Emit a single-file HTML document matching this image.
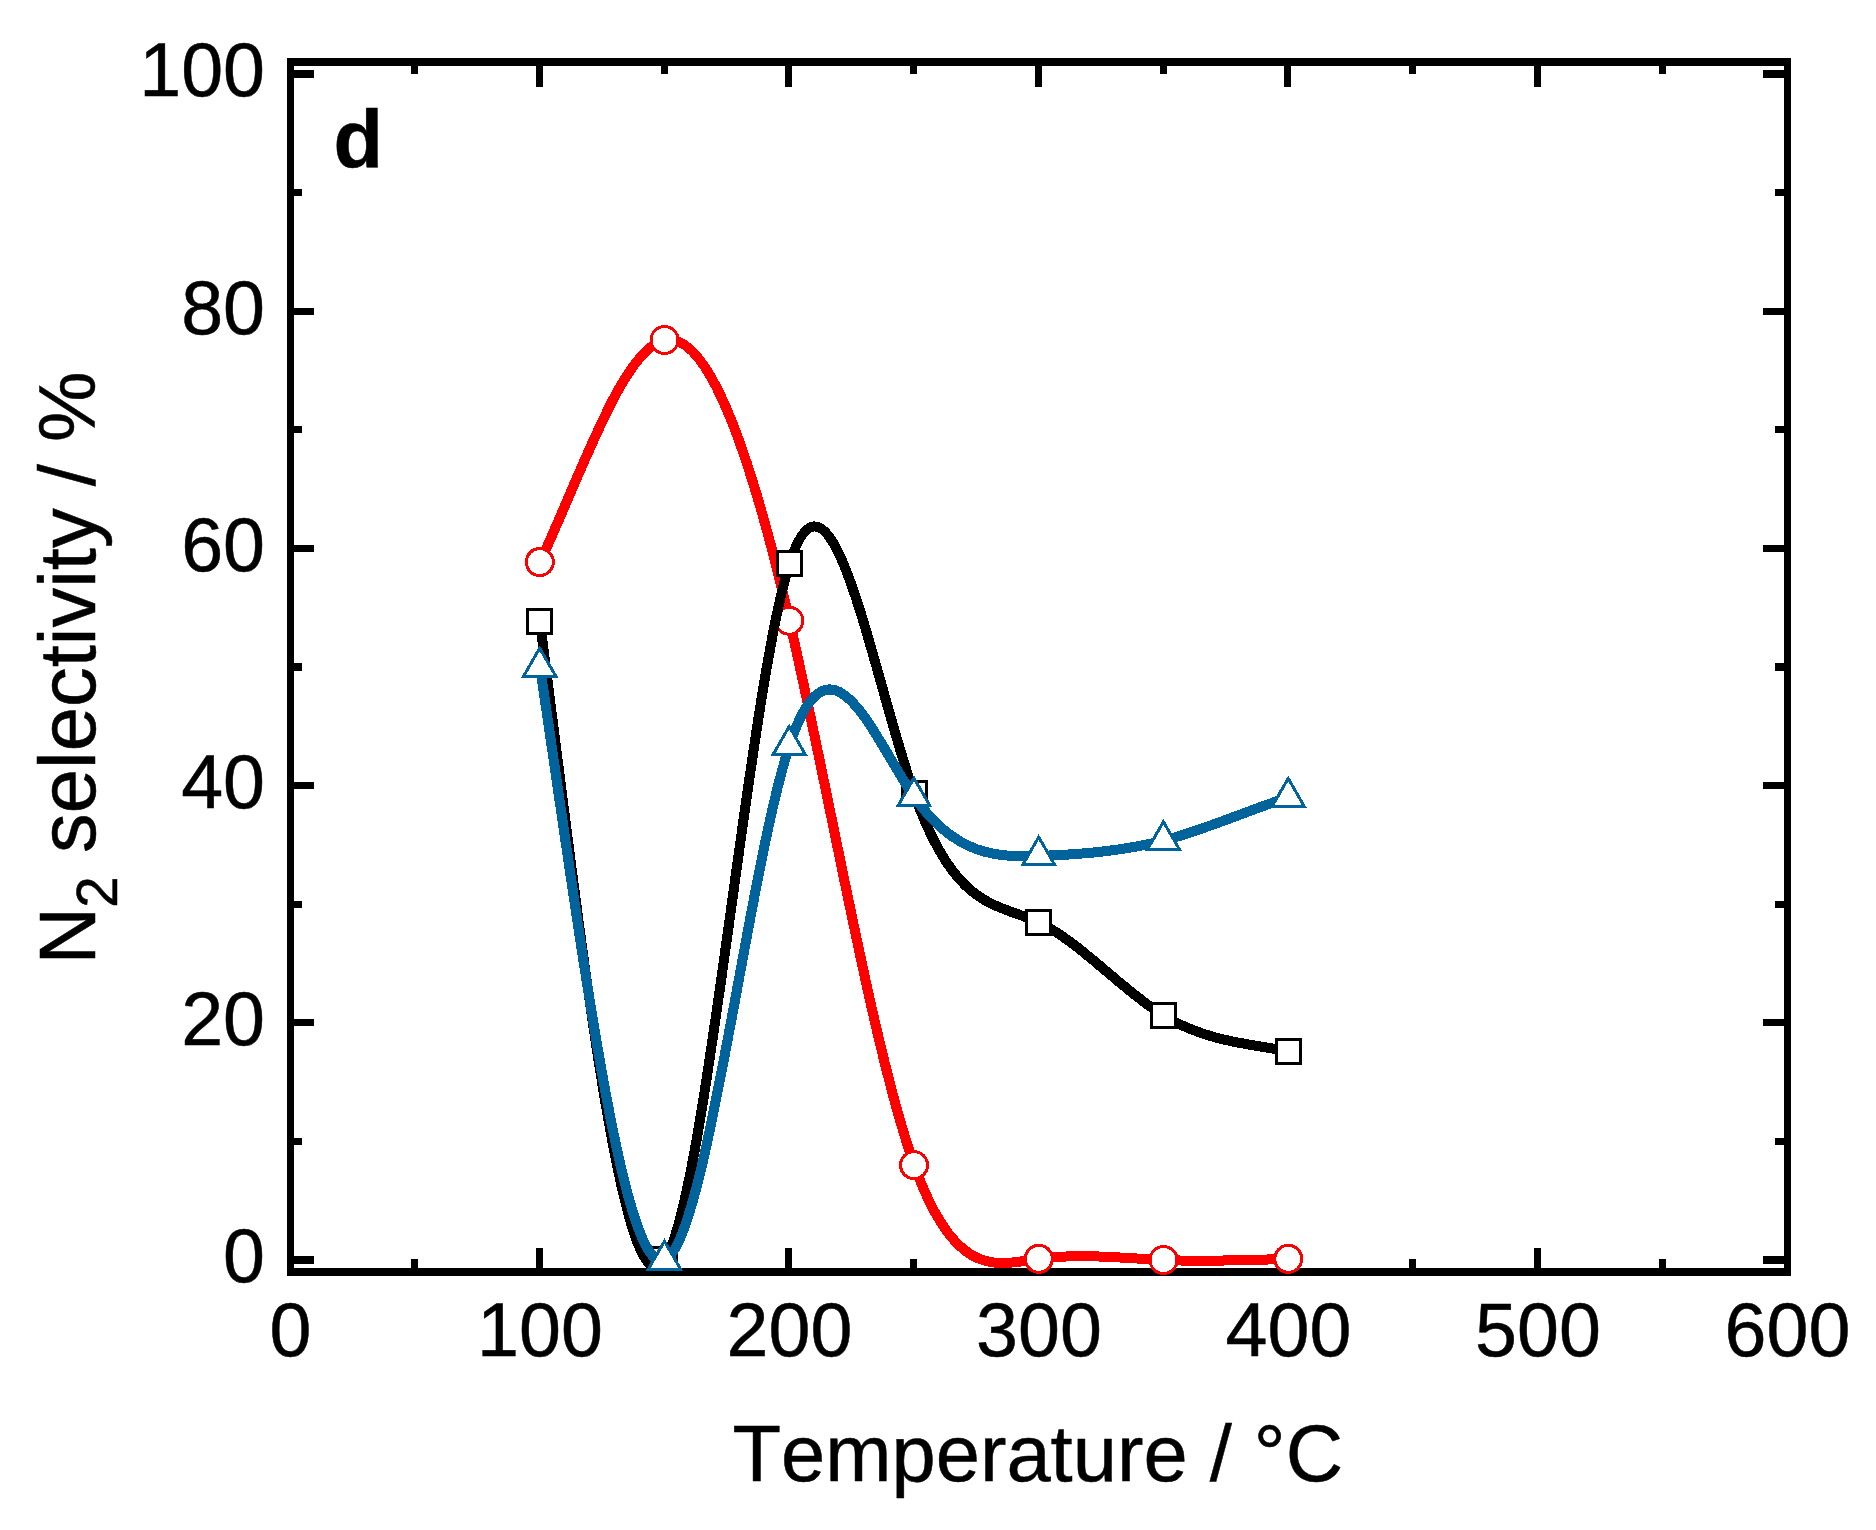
<!DOCTYPE html>
<html lang="en">
<head>
<meta charset="utf-8">
<title>N2 selectivity vs Temperature</title>
<style>
html,body{margin:0;padding:0;background:#ffffff;}
body{width:1876px;height:1530px;overflow:hidden;}
svg{display:block;}
text{font-family:"Liberation Sans",Arial,Helvetica,sans-serif;fill:#000;font-kerning:none;stroke:#000;stroke-width:0.5px;}
.tick{font-size:75.4px;}
.title{font-size:79.5px;}
</style>
</head>
<body>
<svg width="1876" height="1530" viewBox="0 0 1876 1530">
<rect x="0" y="0" width="1876" height="1530" fill="#ffffff"/>

<g fill="#000" shape-rendering="crispEdges">
<rect x="287" y="58" width="1504" height="8"/>
<rect x="287" y="1268" width="1504" height="8"/>
<rect x="287" y="58" width="7" height="1218"/>
<rect x="1784" y="58" width="7" height="1218"/>
<rect x="294" y="1256" width="20" height="8"/>
<rect x="1763" y="1256" width="21" height="8"/>
<rect x="294" y="1138" width="8" height="7"/>
<rect x="1775" y="1138" width="9" height="7"/>
<rect x="294" y="1019" width="20" height="7"/>
<rect x="1763" y="1019" width="21" height="7"/>
<rect x="294" y="901" width="8" height="7"/>
<rect x="1775" y="901" width="9" height="7"/>
<rect x="294" y="782" width="20" height="7"/>
<rect x="1763" y="782" width="21" height="7"/>
<rect x="294" y="663" width="8" height="8"/>
<rect x="1775" y="663" width="9" height="8"/>
<rect x="294" y="545" width="20" height="7"/>
<rect x="1763" y="545" width="21" height="7"/>
<rect x="294" y="426" width="8" height="7"/>
<rect x="1775" y="426" width="9" height="7"/>
<rect x="294" y="308" width="20" height="7"/>
<rect x="1763" y="308" width="21" height="7"/>
<rect x="294" y="189" width="8" height="7"/>
<rect x="1775" y="189" width="9" height="7"/>
<rect x="294" y="70" width="20" height="8"/>
<rect x="1763" y="70" width="21" height="8"/>
<rect x="411" y="66" width="7" height="8"/>
<rect x="411" y="1259" width="7" height="9"/>
<rect x="536" y="66" width="7" height="21"/>
<rect x="536" y="1248" width="7" height="20"/>
<rect x="661" y="66" width="7" height="8"/>
<rect x="661" y="1259" width="7" height="9"/>
<rect x="785" y="66" width="7" height="21"/>
<rect x="785" y="1248" width="7" height="20"/>
<rect x="910" y="66" width="7" height="8"/>
<rect x="910" y="1259" width="7" height="9"/>
<rect x="1035" y="66" width="7" height="21"/>
<rect x="1035" y="1248" width="7" height="20"/>
<rect x="1160" y="66" width="7" height="8"/>
<rect x="1160" y="1259" width="7" height="9"/>
<rect x="1284" y="66" width="7" height="21"/>
<rect x="1284" y="1248" width="7" height="20"/>
<rect x="1409" y="66" width="7" height="8"/>
<rect x="1409" y="1259" width="7" height="9"/>
<rect x="1534" y="66" width="7" height="21"/>
<rect x="1534" y="1248" width="7" height="20"/>
<rect x="1659" y="66" width="7" height="8"/>
<rect x="1659" y="1259" width="7" height="9"/>
</g>
<g class="tick" text-anchor="end">
<text x="265" y="1282.4">0</text>
<text x="265" y="1045.2">20</text>
<text x="265" y="808">40</text>
<text x="265" y="570.8">60</text>
<text x="265" y="333.6">80</text>
<text x="265" y="96.4">100</text>
</g>
<g class="tick" text-anchor="middle">
<text x="290.5" y="1355.5">0</text>
<text x="540" y="1355.5">100</text>
<text x="789.5" y="1355.5">200</text>
<text x="1039" y="1355.5">300</text>
<text x="1288.5" y="1355.5">400</text>
<text x="1538" y="1355.5">500</text>
<text x="1787.5" y="1355.5">600</text>
</g>
<text class="title" x="732.5" y="1480.5">Temperature / °C</text>
<g transform="translate(95,0) rotate(-90)">
<text class="title" x="-964.6" y="0">N</text>
<text x="-907.8" y="22" font-size="56.5">2</text>
<text class="title" x="-852.9" y="0">selectivity / %</text>
</g>
<text x="333.6" y="167" font-size="81" font-weight="bold">d</text>
<g stroke="#ff0000" fill="none" shape-rendering="crispEdges">
<path d="M540 562.04C581.58 473.57 623.17 348.04 664.75 340.02C706.33 332 747.92 441.5 789.5 620.75C831.08 799.99 872.67 1048.97 914.25 1165.12C955.83 1281.27 997.42 1264.59 1039 1258.81C1080.58 1253.04 1122.17 1258.18 1163.75 1260C1205.33 1261.82 1246.92 1260.32 1288.5 1258.81" stroke-width="10" stroke-linejoin="round"/>
<g fill="#fff">
<circle cx="539.8" cy="562.04" r="13.5" stroke-width="3"/>
<circle cx="664.55" cy="340.02" r="13.5" stroke-width="3"/>
<circle cx="789.3" cy="620.75" r="13.5" stroke-width="3"/>
<circle cx="914.05" cy="1165.12" r="13.5" stroke-width="3"/>
<circle cx="1038.8" cy="1258.81" r="13.5" stroke-width="3"/>
<circle cx="1163.55" cy="1260" r="13.5" stroke-width="3"/>
<circle cx="1288.3" cy="1258.81" r="13.5" stroke-width="3"/>
</g></g>
<g stroke="#000000" fill="none" shape-rendering="crispEdges">
<path d="M540 621.93C581.58 942.34 623.17 1322.04 664.75 1260C706.33 1197.96 747.92 694.16 789.5 563.82C831.08 433.47 872.67 676.57 914.25 793.9C955.83 911.23 997.42 902.8 1039 922.58C1080.58 942.36 1122.17 990.36 1163.75 1015.68C1205.33 1041.01 1246.92 1043.67 1288.5 1051.26" stroke-width="10" stroke-linejoin="round"/>
<g fill="#fff">
<rect x="527.5" y="609.5" width="24" height="24" stroke-width="3"/>
<rect x="652.5" y="1247.5" width="24" height="24" stroke-width="3"/>
<rect x="777.5" y="551.5" width="24" height="24" stroke-width="3"/>
<rect x="902.5" y="781.5" width="24" height="24" stroke-width="3"/>
<rect x="1026.5" y="910.5" width="24" height="24" stroke-width="3"/>
<rect x="1151.5" y="1003.5" width="24" height="24" stroke-width="3"/>
<rect x="1276.5" y="1039.5" width="24" height="24" stroke-width="3"/>
</g></g>
<g stroke="#00639b" fill="none" shape-rendering="crispEdges">
<path d="M540 667C581.58 945.61 623.17 1278.58 664.75 1260C706.33 1241.42 747.92 871.28 789.5 745.28C831.08 619.27 872.67 737.4 914.25 796.87C955.83 856.34 997.42 857.15 1039 855.93C1080.58 854.71 1122.17 851.46 1163.75 840.51C1205.33 829.56 1246.92 810.92 1288.5 797.22" stroke-width="10" stroke-linejoin="round"/>
<g fill="#fff">
<path d="M539.7 648.2 L523.7 676 L555.7 676 Z" stroke-width="3" stroke-linejoin="miter"/>
<path d="M664.45 1241.2 L648.45 1269 L680.45 1269 Z" stroke-width="3" stroke-linejoin="miter"/>
<path d="M789.2 726.48 L773.2 754.28 L805.2 754.28 Z" stroke-width="3" stroke-linejoin="miter"/>
<path d="M913.95 778.07 L897.95 805.87 L929.95 805.87 Z" stroke-width="3" stroke-linejoin="miter"/>
<path d="M1038.7 837.13 L1022.7 864.93 L1054.7 864.93 Z" stroke-width="3" stroke-linejoin="miter"/>
<path d="M1163.45 821.71 L1147.45 849.51 L1179.45 849.51 Z" stroke-width="3" stroke-linejoin="miter"/>
<path d="M1288.2 778.42 L1272.2 806.22 L1304.2 806.22 Z" stroke-width="3" stroke-linejoin="miter"/>
</g></g>
</svg>
</body>
</html>
